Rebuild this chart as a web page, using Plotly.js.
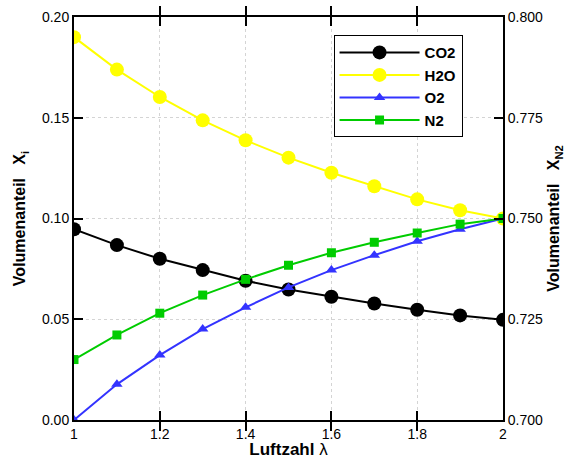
<!DOCTYPE html>
<html>
<head>
<meta charset="utf-8">
<script src="https://cdn.plot.ly/plotly-3.0.1.min.js"></script>
<style>html,body{margin:0;padding:0;background:#fff;}#chart{width:587px;height:459px;}</style>
</head>
<body>
<div id="chart"></div>
<script>
var lambda = [1.0, 1.1, 1.2, 1.3, 1.4, 1.5, 1.6, 1.7, 1.8, 1.9, 2.0];
var co2 = [0.0947, 0.0868, 0.0800, 0.0744, 0.0691, 0.0648, 0.0612, 0.0578, 0.0547, 0.0519, 0.0497];
var h2o = [0.1900, 0.1739, 0.1603, 0.1487, 0.1388, 0.1302, 0.1227, 0.1160, 0.1095, 0.1041, 0.1000];
var o2 = [0.0000, 0.0177, 0.0322, 0.0451, 0.0559, 0.0658, 0.0744, 0.0818, 0.0887, 0.0947, 0.1000];
var n2 = [0.7150, 0.7211, 0.7265, 0.7310, 0.7349, 0.7384, 0.7415, 0.7441, 0.7464, 0.7486, 0.7500];
var names = ['CO2', 'H2O', 'O2', 'N2'];
var xTicks = [1, 1.2, 1.4, 1.6, 1.8, 2];
var xTickText = ['1', '1.2', '1.4', '1.6', '1.8', '2'];

var FF = 'Liberation Sans, Arial, sans-serif';
var font = {family: FF, size: 14, color: '#000'};
var traces = [
  {x: lambda, y: co2, name: names[0], mode: 'lines+markers', line: {color: '#000000', width: 2}, marker: {symbol: 'circle', size: 14, color: '#000000'}},
  {x: lambda, y: h2o, name: names[1], mode: 'lines+markers', line: {color: '#ffff00', width: 2}, marker: {symbol: 'circle', size: 14, color: '#ffff00'}},
  {x: lambda, y: o2, name: names[2], mode: 'lines+markers', line: {color: '#3333ff', width: 2}, marker: {symbol: 'triangle-up', size: 10, color: '#3333ff'}},
  {x: lambda, y: n2, name: names[3], yaxis: 'y2', mode: 'lines+markers', line: {color: '#00cc00', width: 2}, marker: {symbol: 'square', size: 9, color: '#00cc00'}}
];
var layout = {
  width: 587, height: 459,
  margin: {l: 74, r: 84, t: 17, b: 39, pad: 0},
  paper_bgcolor: '#fff', plot_bgcolor: '#fff',
  font: font,
  showlegend: true,
  legend: {x: 0.605, y: 0.955, xanchor: 'left', yanchor: 'top', bgcolor: '#fff', bordercolor: '#000', borderwidth: 1,
           font: {family: FF, size: 15, color: '#000', weight: 'bold'},
           itemwidth: 80, tracegroupgap: 0},
  xaxis: {range: [1, 2], tickmode: 'array', tickvals: xTicks, ticktext: xTickText,
          ticks: 'inside', ticklen: 9, tickwidth: 2, tickcolor: '#000000',
          showline: true, linewidth: 2, linecolor: '#000', mirror: 'allticks', zeroline: false, tickfont: font,
          showgrid: true, gridcolor: '#d4d4d4', griddash: 'dot', gridwidth: 1,
          title: {text: '<b>Luftzahl</b> λ', font: {family: FF, size: 17, color: '#000'}, standoff: 0}},
  yaxis: {range: [0, 0.2], tickmode: 'linear', dtick: 0.05, tick0: 0, tickformat: '.2f',
          ticks: 'inside', ticklen: 9, tickwidth: 2, tickcolor: '#000000',
          showline: true, linewidth: 2, linecolor: '#000', mirror: false, zeroline: false, tickfont: font,
          showgrid: true, gridcolor: '#d4d4d4', griddash: 'dot', gridwidth: 1,
          title: {text: '<b>Volumenanteil   X<sub>i</sub></b>', font: {family: FF, size: 16, color: '#000'}, standoff: 12}},
  yaxis2: {range: [0.7, 0.8], tickmode: 'linear', dtick: 0.025, tick0: 0.7, tickformat: '.3f', overlaying: 'y', side: 'right', anchor: 'x',
          ticks: 'inside', ticklen: 9, tickwidth: 2, tickcolor: '#000000',
          showline: true, linewidth: 2, linecolor: '#000', zeroline: false, tickfont: font,
          showgrid: false,
          title: {text: '<b>Volumenanteil   X<sub>N2</sub></b>', font: {family: FF, size: 16, color: '#000'}, standoff: 6}}
};
Plotly.newPlot('chart', traces, layout, {displayModeBar: false, staticPlot: true});
</script>
</body>
</html>
